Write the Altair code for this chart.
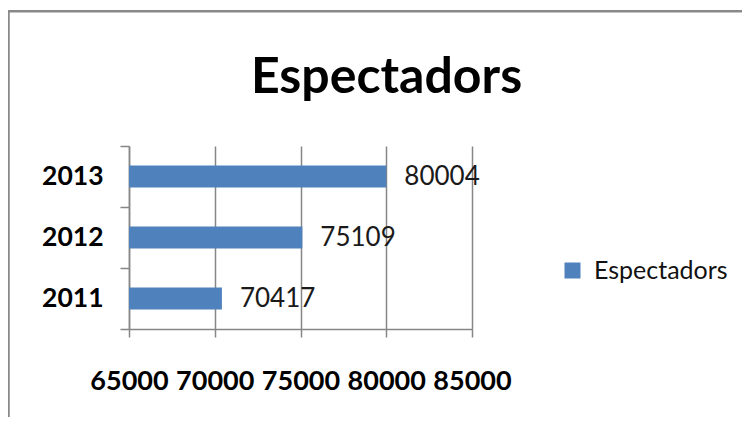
import altair as alt
import pandas as pd

# ---- data ----
years = ["2011", "2012", "2013"]
espectadors = [70417, 75109, 80004]
series_name = "Espectadors"
title_text = ["Espectadors"]
x_ticks = [65000, 70000, 75000, 80000, 85000]
x_domain = [65000, 85000]

df = pd.DataFrame({"year": years, "value": espectadors, "serie": [series_name] * len(years)})
title_df = pd.DataFrame({"t": title_text})
frame_df = pd.DataFrame({"k": [0]})

FONT = "Lato"
BLUE = "#4F81BD"
GRID = "#868686"

y_enc = alt.Y(
    "year:N",
    sort="descending",
    scale=alt.Scale(paddingInner=0, paddingOuter=0),
    axis=alt.Axis(
        title=None, tickBand="extent", labelFont=FONT, labelFontSize=26.5,
        labelFontWeight="bold", labelColor="#000000", labelPadding=17,
        tickSize=9, tickColor=GRID, tickWidth=1.5, domainColor=GRID,
        domainWidth=1.5, grid=False, labelAngle=0,
    ),
)
x_enc = alt.X(
    "value:Q",
    scale=alt.Scale(domain=x_domain, zero=False, nice=False),
    axis=alt.Axis(
        title=None, values=x_ticks, format="d", labelFont=FONT, labelFontSize=27,
        labelFontWeight="bold", labelColor="#000000", labelPadding=31,
        labelFlush=False, labelOverlap=False, tickSize=8, tickColor=GRID,
        tickWidth=1.5, grid=True, gridColor=GRID, gridWidth=1.5,
        domainColor=GRID, domainWidth=1.5,
    ),
)

bars = alt.Chart(df).mark_bar(size=22, clip=True).encode(
    x=x_enc,
    y=y_enc,
    color=alt.Color(
        "serie:N",
        scale=alt.Scale(range=[BLUE]),
        legend=alt.Legend(
            title=None, orient="none", legendX=431, legendY=112,
            symbolType="square", symbolSize=256, symbolStrokeWidth=0,
            labelFont=FONT, labelFontSize=25, labelColor="#111111", labelOffset=9,
        ),
    ),
)

labels = alt.Chart(df).mark_text(
    align="left", baseline="middle", dx=18, font=FONT, fontSize=26, color="#1a1a1a"
).encode(
    x=alt.X("value:Q"),
    y=alt.Y("year:N", sort="descending"),
    text=alt.Text("value:Q", format="d"),
)

title = alt.Chart(title_df).mark_text(
    align="center", baseline="alphabetic", font=FONT, fontSize=50,
    fontWeight="bold", color="#000000",
).encode(x=alt.value(257.5), y=alt.value(-53), text="t:N")

frame = alt.Chart(frame_df).mark_rect(
    filled=False, stroke="#898989", strokeWidth=2.5
).encode(
    x=alt.value(-120.5), x2=alt.value(800), y=alt.value(-134.7), y2=alt.value(500)
)

chart = alt.layer(frame, bars, labels, title).properties(
    width=343,
    height=183,
    autosize=alt.AutoSizeParams(type="none"),
    padding={"left": 121, "top": 138, "right": 270, "bottom": 88},
).configure_view(stroke=None)

chart.save("out.html", embed_options={"renderer": "svg", "actions": False})
